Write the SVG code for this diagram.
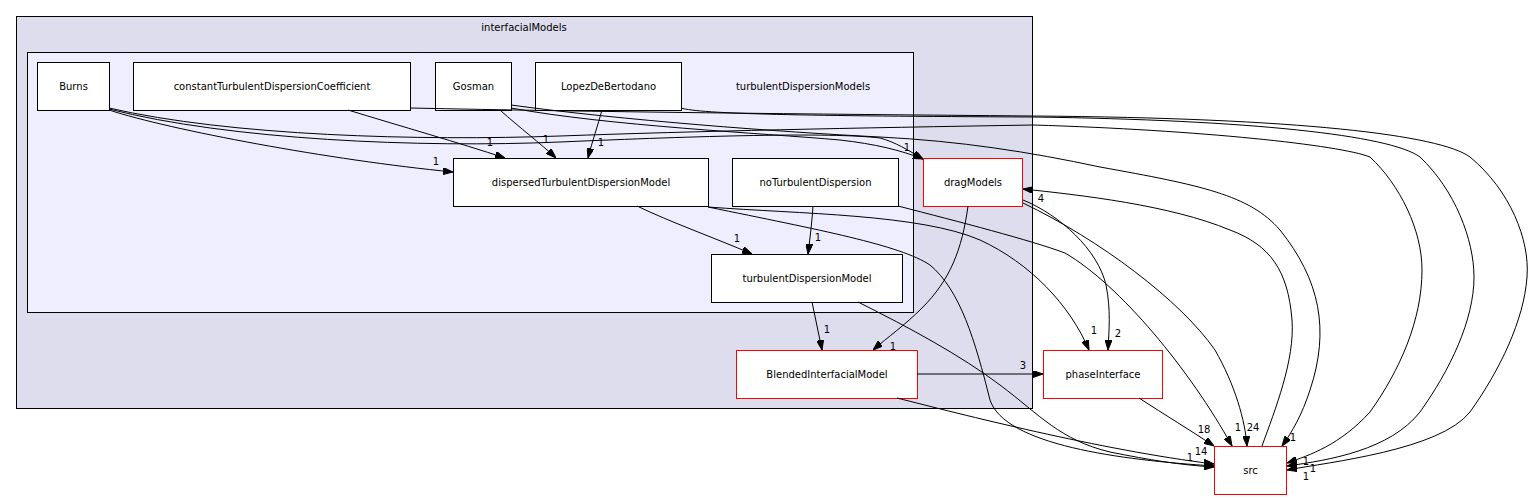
<svg xmlns="http://www.w3.org/2000/svg" width="1532" height="500" viewBox="0 0 1532 500">
<defs>
<marker id="ah" markerWidth="10" markerHeight="7" refX="10" refY="3.5" orient="auto" markerUnits="userSpaceOnUse">
<path d="M0,0 L10,3.5 L0,7 z" fill="#000" stroke="#000" stroke-width="1"/>
</marker>
</defs>
<style>
text{font-family:"DejaVu Sans","Liberation Sans",sans-serif;font-size:10px;fill:#000}
.c{text-anchor:middle}
.n{fill:#fff;stroke:#000;stroke-width:1}
.r{fill:#fff;stroke:#ff0000;stroke-width:1}
.e{fill:none;stroke:#000;stroke-width:1;marker-end:url(#ah)}
.el{text-anchor:middle}
</style>
<rect width="1532" height="500" fill="#fff"/>
<g id="cluster_interfacialModels">
<rect x="16.5" y="16.5" width="1016" height="392" fill="#ddddee" stroke="#000"/>
<text class="c" x="524" y="31">interfacialModels</text>
</g>
<g id="cluster_turbulentDispersionModels">
<rect x="27.5" y="52.5" width="886" height="260" fill="#eeeeff" stroke="#000"/>
<text class="c" x="803" y="89.5">turbulentDispersionModels</text>
</g>
<g id="node_Burns"><rect class="n" x="37.5" y="62.5" width="72" height="48"/><text class="c" x="73.5" y="89.5">Burns</text></g>
<g id="node_constant"><rect class="n" x="133.5" y="62.5" width="277" height="48"/><text class="c" x="272" y="89.5">constantTurbulentDispersionCoefficient</text></g>
<g id="node_Gosman"><rect class="n" x="435.5" y="62.5" width="76" height="48"/><text class="c" x="473.5" y="89.5">Gosman</text></g>
<g id="node_Lopez"><rect class="n" x="535.5" y="62.5" width="146" height="48"/><text class="c" x="608.5" y="89.5">LopezDeBertodano</text></g>
<g id="node_dispersed"><rect class="n" x="453.5" y="158.5" width="255" height="48"/><text class="c" x="581" y="185.5">dispersedTurbulentDispersionModel</text></g>
<g id="node_noTurb"><rect class="n" x="732.5" y="158.5" width="166" height="48"/><text class="c" x="815.5" y="185.5">noTurbulentDispersion</text></g>
<g id="node_turbModel"><rect class="n" x="711.5" y="254.5" width="191" height="48"/><text class="c" x="807" y="281.5">turbulentDispersionModel</text></g>
<g id="node_dragModels"><rect class="r" x="923.5" y="158.5" width="99" height="48"/><text class="c" x="973" y="185.5">dragModels</text></g>
<g id="node_Blended"><rect class="r" x="736.5" y="350.5" width="181" height="48"/><text class="c" x="827" y="377.5">BlendedInterfacialModel</text></g>
<g id="node_phaseInterface"><rect class="r" x="1043.5" y="350.5" width="119" height="48"/><text class="c" x="1103" y="377.5">phaseInterface</text></g>
<g id="node_src"><rect class="r" x="1214.5" y="446.5" width="72" height="48"/><text class="c" x="1250.5" y="473.5">src</text></g>
<g id="connectors">
<path class="e" d="M109,110 C170,130 330,160 453,172"/>
<text class="el" x="436" y="165">1</text>
<path class="e" d="M348,110 C400,126 460,143 505,158"/>
<text class="el" x="490" y="146">1</text>
<path class="e" d="M500,110 C520,128 540,143 556,158"/>
<text class="el" x="546" y="143">1</text>
<path class="e" d="M602,110 C598,125 592,142 588,158"/>
<text class="el" x="601" y="146">1</text>
<path class="e" d="M109,109 C230,140 420,148 560,142 C700,136 830,132 880,138 C895,142 908,150 923,159"/>
<path class="e" d="M511,108 C610,126 760,133 840,140 C875,144 900,150 923,159"/>
<text class="el" x="907" y="151">1</text>
<path class="e" d="M637,206 C670,222 715,238 752,254"/>
<text class="el" x="737" y="242">1</text>
<path class="e" d="M813,206 C812,222 810,238 808,254"/>
<text class="el" x="818" y="241">1</text>
<path class="e" d="M812,302 C815,318 819,334 822,350"/>
<text class="el" x="827" y="333">1</text>
<path class="e" d="M968,206 C962,250 950,280 922,308 C905,325 888,337 873,350"/>
<text class="el" x="893" y="350">1</text>
<path class="e" d="M917,374 L1043,374"/>
<text class="el" x="1023" y="369">3</text>
<path class="e" d="M708,207 C800,214 920,214 980,240 C1030,263 1070,305 1089,350"/>
<text class="el" x="1094" y="334">1</text>
<path class="e" d="M1023,200 C1060,215 1098,250 1106,285 C1111,310 1109,330 1108,350"/>
<text class="el" x="1118" y="337">2</text>
<path class="e" d="M1139,398 C1165,415 1190,430 1214,446"/>
<text class="el" x="1204" y="433">18</text>
<path class="e" d="M1023,203 C1100,240 1180,300 1215,350 C1235,385 1245,420 1247,446"/>
<text class="el" x="1253" y="431">24</text>
<path class="e" d="M898,206 C960,222 1030,240 1065,253 C1120,285 1190,370 1232,446"/>
<text class="el" x="1238" y="431">1</text>
<path class="e" d="M1262,446 C1275,410 1295,360 1292,320 C1288,270 1270,245 1230,230 C1170,205 1080,195 1023,189"/>
<text class="el" x="1041" y="202">4</text>
<path class="e" d="M897,398 C960,414 1100,450 1214,464"/>
<path class="e" d="M858,302 C910,328 960,355 1000,385 C1040,415 1060,440 1110,452 C1150,460 1180,465 1214,467"/>
<path class="e" d="M708,207 C820,230 900,245 930,265 C960,290 975,340 990,400 C1005,445 1120,460 1214,466"/>
<text class="el" x="1201" y="455">14</text>
<text class="el" x="1190" y="461">1</text>
<path class="e" d="M410,108 C600,112 800,114 1033,116 C1300,118 1440,135 1470,157 C1510,190 1530,240 1527,277 C1524,320 1500,370 1470,412 C1440,450 1330,462 1287,470"/>
<path class="e" d="M681,108 C700,114 800,116 1033,117 C1250,120 1390,135 1420,157 C1455,190 1474,240 1474,277 C1474,320 1450,370 1420,412 C1390,450 1330,460 1287,466"/>
<path class="e" d="M109,108 C230,136 420,141 560,136 C700,131 850,128 1033,125 C1200,130 1340,145 1370,157 C1400,185 1422,230 1422,270 C1422,320 1400,370 1370,412 C1340,445 1310,455 1287,463"/>
<text class="el" x="1306" y="465">1</text>
<text class="el" x="1313" y="472">1</text>
<text class="el" x="1306" y="480">1</text>
<path class="e" d="M511,105 C620,120 780,132 880,137 C960,141 1030,152 1100,167 C1200,185 1250,195 1280,230 C1320,280 1330,330 1310,390 C1302,415 1292,432 1282,446"/>
<text class="el" x="1293" y="441">1</text>
</g>
</svg>
